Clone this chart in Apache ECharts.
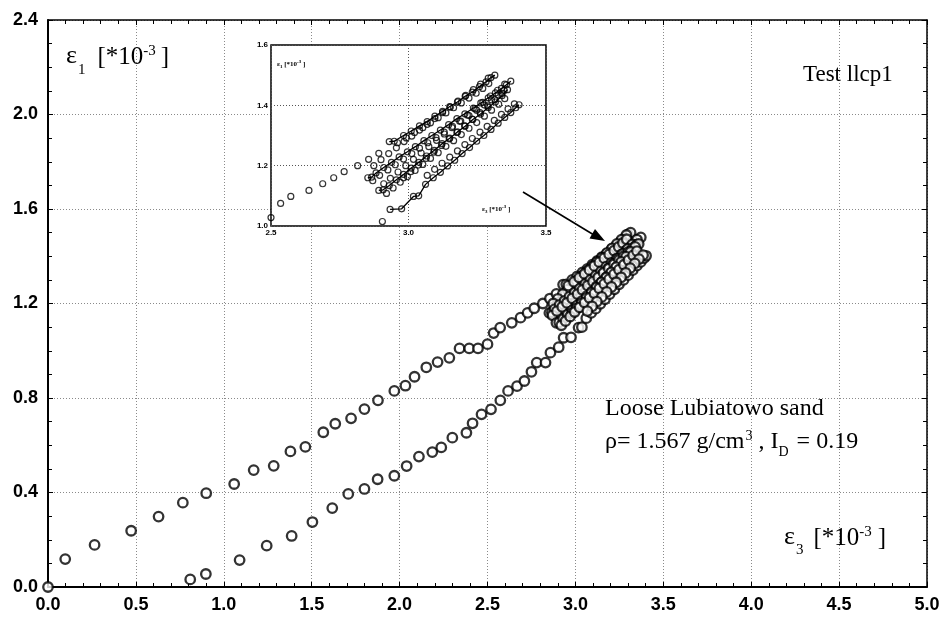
<!doctype html>
<html>
<head>
<meta charset="utf-8">
<title>Test llcp1</title>
<script src="https://cdn.jsdelivr.net/npm/echarts@6/dist/echarts.min.js"></script>
</head>
<body style="margin:0;padding:0;background:#fff">
<div id="tb" style="width:944px;height:620px;"></div>
<script>
// axis ranges / tick steps
var xRange = [0, 5], xStep = 0.5;
var yRange = [0, 2.4], yStep = 0.4;
var insetX = [2.5, 3.5], insetXStep = 0.5;
var insetY = [1.0, 1.6], insetYStep = 0.2;

// eps3, eps1 [*10^-3]
var firstLoading = [[0.000,0.000],[0.098,0.118],[0.265,0.178],[0.473,0.238],[0.629,0.298],[0.767,0.357],[0.900,0.397],[1.059,0.436],[1.170,0.495],[1.284,0.513],[1.379,0.574],[1.464,0.593],[1.566,0.655],[1.634,0.691],[1.724,0.714],[1.800,0.753],[1.877,0.790],[1.970,0.830],[2.033,0.852],[2.085,0.890],[2.152,0.930],[2.216,0.952],[2.283,0.970],[2.341,1.010],[2.396,1.010],[2.446,1.010],[2.500,1.028],[2.535,1.075],[2.572,1.098],[2.638,1.118],[2.688,1.140],[2.728,1.160],[2.766,1.180],[2.815,1.200],[2.855,1.221],[2.892,1.241]];
var load1 = [[2.930,1.280],[2.948,1.281],[2.982,1.300],[3.010,1.315],[3.040,1.332],[3.068,1.346],[3.096,1.364],[3.124,1.380],[3.150,1.396],[3.178,1.411],[3.206,1.430],[3.232,1.444],[3.258,1.462],[3.282,1.478],[3.300,1.492],[3.314,1.500]];
var unload1 = [[3.290,1.490],[3.262,1.470],[3.236,1.452],[3.208,1.433],[3.180,1.414],[3.152,1.394],[3.124,1.376],[3.096,1.356],[3.068,1.337],[3.040,1.318],[3.012,1.298],[2.984,1.280],[2.956,1.259],[2.928,1.240],[2.900,1.220],[2.874,1.200]];
var reload1 = [[2.960,1.276],[2.992,1.292],[3.022,1.310],[3.052,1.326],[3.080,1.342],[3.108,1.359],[3.136,1.375],[3.164,1.392],[3.192,1.408],[3.220,1.424],[3.246,1.440],[3.270,1.456],[3.292,1.472]];
var load2 = [[2.852,1.160],[2.866,1.162],[2.882,1.176],[2.910,1.194],[2.938,1.211],[2.966,1.229],[2.996,1.246],[3.025,1.263],[3.056,1.283],[3.085,1.300],[3.116,1.318],[3.146,1.336],[3.176,1.356],[3.205,1.372],[3.236,1.391],[3.263,1.408],[3.290,1.425],[3.316,1.441],[3.338,1.456],[3.356,1.468],[3.372,1.480]];
var unload2 = [[3.350,1.470],[3.324,1.450],[3.298,1.431],[3.270,1.410],[3.242,1.389],[3.214,1.368],[3.186,1.347],[3.158,1.326],[3.130,1.305],[3.102,1.284],[3.074,1.263],[3.046,1.242],[3.018,1.221],[2.990,1.200],[2.962,1.179],[2.934,1.158],[2.910,1.140]];
var reload2 = [[2.870,1.150],[2.895,1.168],[2.925,1.186],[2.952,1.203],[2.982,1.222],[3.012,1.240],[3.040,1.258],[3.070,1.276],[3.100,1.293],[3.130,1.311],[3.160,1.330],[3.190,1.348],[3.220,1.366],[3.248,1.384],[3.276,1.401],[3.302,1.418],[3.326,1.434],[3.348,1.449]];
var load3 = [[2.892,1.118],[2.908,1.120],[2.930,1.134],[2.956,1.153],[2.982,1.171],[3.010,1.192],[3.038,1.211],[3.066,1.232],[3.094,1.251],[3.122,1.273],[3.150,1.291],[3.178,1.312],[3.206,1.331],[3.234,1.353],[3.262,1.371],[3.290,1.393],[3.316,1.411],[3.340,1.432],[3.360,1.452]];
var unload3 = [[3.340,1.440],[3.314,1.419],[3.288,1.398],[3.260,1.376],[3.232,1.354],[3.204,1.332],[3.176,1.310],[3.148,1.289],[3.120,1.267],[3.092,1.245],[3.064,1.224],[3.036,1.202],[3.008,1.180],[2.982,1.160]];
var reload3 = [[2.920,1.108],[2.944,1.126],[2.970,1.145],[2.996,1.164],[3.024,1.184],[3.052,1.204],[3.080,1.224],[3.108,1.243],[3.136,1.264],[3.164,1.283],[3.192,1.303],[3.220,1.324],[3.248,1.343],[3.276,1.364],[3.302,1.384],[3.328,1.404],[3.350,1.422]];
var reloading = [[0.809,0.032],[0.898,0.055],[1.090,0.114],[1.244,0.175],[1.386,0.216],[1.504,0.275],[1.617,0.334],[1.708,0.394],[1.800,0.415],[1.875,0.456],[1.970,0.471],[2.040,0.512],[2.110,0.552],[2.186,0.571],[2.237,0.591],[2.300,0.632],[2.380,0.653],[2.415,0.693],[2.466,0.731],[2.520,0.752],[2.573,0.790],[2.617,0.830],[2.668,0.850],[2.710,0.872],[2.750,0.911],[2.780,0.950],[2.830,0.950],[2.858,0.992],[2.905,1.015],[2.933,1.055],[2.975,1.057],[3.018,1.098],[3.037,1.100],[3.062,1.138]];
var load4 = [[3.090,1.160],[3.116,1.178],[3.142,1.199],[3.168,1.218],[3.195,1.240],[3.222,1.260],[3.248,1.281],[3.274,1.300],[3.300,1.320],[3.326,1.341],[3.350,1.360],[3.372,1.376],[3.390,1.392],[3.402,1.402]];
var unload4 = [[3.385,1.405],[3.362,1.388],[3.338,1.370],[3.312,1.350],[3.286,1.330],[3.260,1.311],[3.232,1.290],[3.205,1.270],[3.178,1.249],[3.150,1.228],[3.122,1.208],[3.095,1.188],[3.068,1.168]];

var pointSets = [firstLoading, load1, unload1, reload1, load2, unload2, reload2, load3, unload3, reload3, reloading, load4, unload4];
var insetLines = [load1, load2, load3, reloading.slice(-5).concat(load4)];

var SANS = '"Liberation Sans", Arial, sans-serif';
var SERIF = '"Liberation Serif", "Times New Roman", serif';

var chart = echarts.init(document.getElementById('tb'));

function fmt(v) { return v.toFixed(1); }

function mainAxis(dim, pos, range, step, minorN, lw, labels) {
    return {
        type: 'value', gridIndex: 0, position: pos,
        min: range[0], max: range[1], interval: step, z: 1,
        axisLine: { show: true, onZero: false, lineStyle: { color: '#000', width: lw } },
        axisTick: { show: true, inside: true, length: 5, lineStyle: { color: '#000', width: 1 } },
        minorTick: { show: true, splitNumber: minorN, length: 4, lineStyle: { color: '#000', width: 1 } },
        axisLabel: {
            show: labels, color: '#000', fontFamily: SANS, fontWeight: 'bold', fontSize: 18,
            margin: dim === 'x' ? 9 : 10, formatter: fmt
        },
        splitLine: { show: labels, lineStyle: { color: '#8a8a8a', width: 1, type: [1, 2] } }
    };
}

function insetAxis(dim, range, step) {
    return {
        type: 'value', gridIndex: 1, min: range[0], max: range[1], interval: step, z: 4,
        axisLine: { show: false },
        axisTick: { show: false },
        axisLabel: {
            color: '#000', fontFamily: SANS, fontWeight: 'bold', fontSize: 8,
            margin: 3, formatter: fmt
        },
        splitLine: { show: true, lineStyle: { color: '#555', width: 1, type: [1, 2] } }
    };
}

var series = [];
pointSets.forEach(function (d) {
    series.push({
        type: 'scatter', xAxisIndex: 0, yAxisIndex: 0, data: d, clip: false, silent: true,
        symbol: 'circle', symbolSize: 9.5, z: 2,
        itemStyle: { color: '#fff', borderColor: '#000', borderWidth: 2.3 }
    });
});
insetLines.forEach(function (d) {
    series.push({
        type: 'line', xAxisIndex: 2, yAxisIndex: 2, data: d, symbol: 'none', silent: true, z: 5,
        lineStyle: { color: '#000', width: 1.3 }
    });
});
pointSets.forEach(function (d) {
    series.push({
        type: 'scatter', xAxisIndex: 2, yAxisIndex: 2, data: d, clip: true, silent: true,
        symbol: 'circle', symbolSize: 6, z: 6,
        itemStyle: { color: 'rgba(255,255,255,0)', borderColor: '#000', borderWidth: 1.2 }
    });
});

// text pieces laid one after another (measured with canvas)
var mctx = document.createElement('canvas').getContext('2d');
function chain(x, base, parts, family, weight) {
    var out = [];
    parts.forEach(function (p) {
        var font = (weight || 'normal') + ' ' + p[1] + 'px ' + family;
        mctx.font = font;
        out.push({
            type: 'text', z: 20, silent: true,
            x: x + (p[3] || 0), y: base + (p[2] || 0),
            style: { text: p[0], font: font, fill: '#000', textVerticalAlign: 'bottom', verticalAlign: 'bottom' }
        });
        x += mctx.measureText(p[0]).width + (p[3] || 0);
    });
    return out;
}
// 'bottom' aligned boxes: shift so the alphabetic baseline lands at base
function at(base, size) { return base + size * 0.22; }

var graphics = [];
graphics = graphics.concat(chain(66, at(64, 25), [['ε', 26], ['1', 15, 8, 1], ['[*10', 25, 0, 12], ['-3', 15, -11, 0], [']', 25, 0, 5]], SERIF));
graphics = graphics.concat(chain(784, at(545, 25), [['ε', 26], ['3', 15, 7, 1], ['[*10', 25, 0, 10], ['-3', 15, -11, 0], [']', 25, 0, 6]], SERIF));
graphics = graphics.concat(chain(803, at(81, 23), [['Test llcp1', 23]], SERIF));
graphics = graphics.concat(chain(605, at(415, 24), [['Loose Lubiatowo sand', 24]], SERIF));
graphics = graphics.concat(chain(605, at(448, 24), [['ρ= 1.567 g/cm', 24], ['3', 14, -10, 1], [' , I', 24, 0, 0], ['D', 14, 6, 0], [' = 0.19', 24, 0, 2]], SERIF));
graphics = graphics.concat(chain(277, at(66, 7), [['ε', 7], ['1', 5, 2, 0], [' [*10', 7], ['-3', 5, -3], [' ]', 7]], SERIF, 'bold'));
graphics = graphics.concat(chain(482, at(211, 7), [['ε', 7], ['3', 5, 2, 0], [' [*10', 7], ['-3', 5, -3], [' ]', 7]], SERIF, 'bold'));
// arrow from the inset to the cluster
graphics.push({
    type: 'line', z: 20, silent: true,
    shape: { x1: 523, y1: 192, x2: 594, y2: 235 },
    style: { stroke: '#000', lineWidth: 1.6 }
});
graphics.push({
    type: 'polygon', z: 20, silent: true,
    shape: { points: [[605, 241], [589.5, 238.5], [595, 229]] },
    style: { fill: '#000' }
});

chart.setOption({
    animation: false,
    backgroundColor: '#fff',
    grid: [
        { left: 48, right: 17, top: 20, bottom: 33, show: false, z: 0 },
        { left: 271, top: 45, width: 275, height: 181, show: true, z: 3,
          backgroundColor: '#fff', borderColor: '#000', borderWidth: 1.5 }
    ],
    xAxis: [
        mainAxis('x', 'bottom', xRange, xStep, 5, 2, true),
        mainAxis('x', 'top', xRange, xStep, 5, 1.5, false),
        insetAxis('x', insetX, insetXStep)
    ],
    yAxis: [
        mainAxis('y', 'left', yRange, yStep, 4, 2, true),
        mainAxis('y', 'right', yRange, yStep, 4, 1.5, false),
        insetAxis('y', insetY, insetYStep)
    ],
    series: series,
    graphic: graphics
});
</script>
</body>
</html>
